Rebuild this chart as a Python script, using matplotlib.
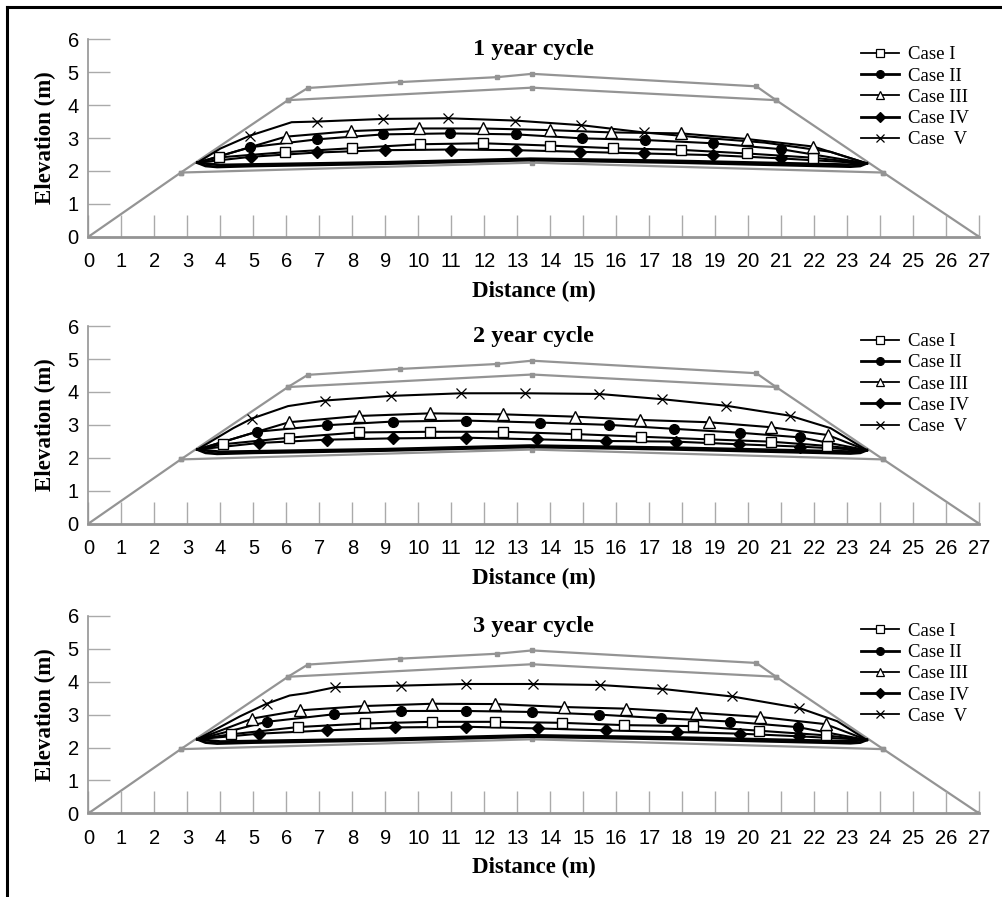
import matplotlib
matplotlib.use("Agg")
import matplotlib.pyplot as plt
from matplotlib.lines import Line2D

plt.rcParams['font.family'] = ['Liberation Sans', 'DejaVu Sans']

# embankment outline (gray), same in every panel
outer_x = [0, 2.8, 6.05, 6.65, 9.45, 12.4, 13.45, 20.25, 20.85, 24.1, 27]
outer_y = [0, 1.95, 4.15, 4.52, 4.7, 4.85, 4.95, 4.57, 4.15, 1.95, 0]
inner_x = [6.05, 13.45, 20.85]
inner_y = [4.15, 4.53, 4.15]
base_x = [2.8, 13.45, 24.1]
base_y = [1.95, 2.25, 1.95]

# lower boundary of the wetted zone (thick black, unlabelled)
low1 = [(3.3, 2.25), (3.55, 2.15), (3.9, 2.12), (5, 2.15), (9, 2.22), (13.4, 2.33),
        (18, 2.25), (23.1, 2.13), (23.4, 2.15), (23.6, 2.23)]
low2 = [(3.3, 2.25), (4.0, 2.18), (9, 2.26), (13.4, 2.37), (18, 2.3), (23, 2.19), (23.6, 2.23)]

# converge points
left_pt = (3.3, 2.25)
right_pt = (23.6, 2.23)

# ---- 1 year cycle: marker points + extra line points
p1_c1 = [(3.96, 2.41), (5.97, 2.57), (7.99, 2.69), (10.05, 2.81), (11.96, 2.84), (13.98, 2.77),
         (15.9, 2.69), (17.97, 2.64), (19.96, 2.53), (21.98, 2.40)]
p1_c2 = [(4.91, 2.72), (6.94, 2.96), (8.93, 3.11), (10.95, 3.14), (12.97, 3.11), (14.96, 2.99),
         (16.86, 2.94), (18.93, 2.84), (21.0, 2.66)]
p1_c3 = [(5.98, 3.04), (7.97, 3.21), (10.02, 3.29), (11.96, 3.29), (13.98, 3.24), (15.85, 3.17),
         (17.97, 3.14), (19.96, 2.97), (21.98, 2.74)]
p1_c4 = [(4.94, 2.43), (6.94, 2.56), (8.98, 2.63), (11.0, 2.65), (12.97, 2.63), (14.91, 2.58),
         (16.83, 2.53), (18.93, 2.48), (21.0, 2.38)]
p1_c5 = [(4.89, 3.07), (6.93, 3.50), (8.93, 3.58), (10.9, 3.60), (12.94, 3.53), (14.94, 3.39),
         (16.83, 3.17)]
p1_c5_bends = [(4.0, 2.68), (6.16, 3.48), (18.5, 3.02), (20.5, 2.86), (22.5, 2.58)]

# ---- 2 year cycle
p2_c1 = [(4.08, 2.41), (6.08, 2.61), (8.2, 2.77), (10.37, 2.79), (12.57, 2.79), (14.77, 2.72),
         (16.74, 2.64), (18.8, 2.56), (20.68, 2.49), (22.4, 2.36)]
p2_c2 = [(5.1, 2.79), (7.24, 2.99), (9.22, 3.1), (11.46, 3.13), (13.68, 3.07), (15.78, 3.0),
         (17.74, 2.88), (19.76, 2.76), (21.58, 2.62)]
p2_c3 = [(6.08, 3.08), (8.2, 3.27), (10.37, 3.35), (12.57, 3.32), (14.74, 3.25), (16.73, 3.15),
         (18.8, 3.08), (20.68, 2.93), (22.42, 2.69)]
p2_c4 = [(5.17, 2.45), (7.22, 2.55), (9.24, 2.59), (11.46, 2.61), (13.61, 2.56), (15.68, 2.51),
         (17.8, 2.49), (19.72, 2.41), (21.56, 2.34)]
p2_c5 = [(4.95, 3.19), (7.17, 3.74), (9.16, 3.88), (11.31, 3.96), (13.25, 3.96), (15.47, 3.94),
         (17.4, 3.78), (19.34, 3.58), (21.26, 3.28)]
p2_c5_bends = [(4.39, 2.9), (6.05, 3.57), (22.5, 2.9)]

# ---- 3 year cycle
p3_c1 = [(4.32, 2.4), (6.34, 2.62), (8.38, 2.73), (10.42, 2.78), (12.34, 2.78), (14.35, 2.75),
         (16.24, 2.68), (18.34, 2.65), (20.33, 2.51), (22.35, 2.37)]
p3_c2 = [(5.4, 2.78), (7.44, 3.01), (9.47, 3.11), (11.46, 3.11), (13.46, 3.08), (15.47, 3.0),
         (17.35, 2.89), (19.45, 2.79), (21.5, 2.62)]
p3_c3 = [(4.97, 2.88), (6.42, 3.13), (8.36, 3.26), (10.42, 3.33), (12.34, 3.32), (14.42, 3.23),
         (16.3, 3.18), (18.41, 3.06), (20.35, 2.93), (22.35, 2.71)]
p3_c4 = [(5.17, 2.42), (7.24, 2.52), (9.29, 2.61), (11.46, 2.63), (13.62, 2.58), (15.68, 2.52),
         (17.83, 2.47), (19.75, 2.42), (21.55, 2.34)]
p3_c5 = [(5.4, 3.33), (7.47, 3.83), (9.47, 3.88), (11.44, 3.93), (13.48, 3.93), (15.5, 3.9),
         (17.4, 3.78), (19.52, 3.55), (21.55, 3.2)]
p3_c5_bends = [(4.6, 2.95), (6.1, 3.58), (6.6, 3.65), (22.7, 2.8)]

titles = ["1 year cycle", "2 year cycle", "3 year cycle"]
case_names = ["Case I", "Case II", "Case III", "Case IV", "Case  V"]

panels = [
    [p1_c1, p1_c2, p1_c3, p1_c4, p1_c5],
    [p2_c1, p2_c2, p2_c3, p2_c4, p2_c5],
    [p3_c1, p3_c2, p3_c3, p3_c4, p3_c5],
]
bends = [p1_c5_bends, p2_c5_bends, p3_c5_bends]

# marker style per case: (marker, face, size)
styles = [("s", "white", 6.5), ("o", "black", 7), ("^", "white", 8), ("D", "black", 6.5), ("x", "none", 6.5)]
leg_lw = [1.3, 2.0, 1.3, 2.0, 1.3]

gray = "#949494"
fig = plt.figure(figsize=(10.02, 8.97), dpi=100)

# axes positions (figure fractions)
bottoms = [0.7361, 0.4163, 0.0933]
for k in range(3):
    ax = fig.add_axes([0.0883, bottoms[k], 0.8887, 0.2201])
    ax.plot(outer_x, outer_y, color=gray, lw=1.6, marker="s", ms=3, zorder=1)
    ax.plot(inner_x, inner_y, color=gray, lw=1.6, marker="s", ms=3, zorder=1)
    ax.plot(base_x, base_y, color=gray, lw=1.6, marker="s", ms=3, zorder=1)

    for low in (low1, low2):
        ax.plot([p[0] for p in low], [p[1] for p in low], color="black", lw=2.0, zorder=2)

    handles = []
    for i, pts in enumerate(panels[k]):
        mk, fc, ms = styles[i]
        line_pts = [left_pt] + pts + [right_pt]
        if i == 4:
            line_pts = line_pts + bends[k]
        line_pts = sorted(line_pts)
        ax.plot([p[0] for p in line_pts], [p[1] for p in line_pts], color="black", lw=1.5, zorder=3)
        ax.plot([p[0] for p in pts], [p[1] for p in pts], ls="none", marker=mk, ms=ms,
                mfc=fc, mec="black", mew=1.0 if i < 4 else 0.9, zorder=4)
        handles.append(Line2D([], [], color="black", lw=leg_lw[i], marker=mk, ms=ms * 0.8,
                              mfc=fc, mec="black", mew=0.9))

    ax.set_xlim(0, 27)
    ax.set_ylim(0, 6)
    ax.set_xticks(range(0, 28))
    ax.set_yticks(range(0, 7))
    for s in ("top", "right"):
        ax.spines[s].set_visible(False)
    ax.spines["left"].set_color(gray)
    ax.spines["bottom"].set_color(gray)
    ax.spines["left"].set_linewidth(1.2)
    ax.spines["bottom"].set_linewidth(2.0)
    ax.tick_params(axis="y", direction="in", length=16, width=1, color="#aaaaaa", pad=7, labelsize=14.5)
    ax.tick_params(axis="x", direction="in", length=15.5, width=1, color="#aaaaaa", pad=11, labelsize=14.5)

    ax.set_xlabel("Distance (m)", family="Liberation Serif", fontweight="bold", fontsize=16.5, labelpad=7)
    ax.set_ylabel("Elevation (m)", family="Liberation Serif", fontweight="bold", fontsize=16.5, labelpad=8)
    ax.text(0.5, 0.946, titles[k], transform=ax.transAxes, ha="center", va="center",
            family="Liberation Serif", fontweight="bold", fontsize=17.5)

    ax.legend(handles, case_names, loc="upper left", bbox_to_anchor=(0.868, 0.965), frameon=False,
              borderaxespad=0, borderpad=0, handlelength=2.0, handletextpad=0.5, labelspacing=0.22,
              prop={"family": "Liberation Serif", "size": 13.5})

# cropped frame on left and top
fig.add_artist(Line2D([0.007, 0.007], [0, 0.992], transform=fig.transFigure, color="black", lw=2.2))
fig.add_artist(Line2D([0.007, 1.0], [0.992, 0.992], transform=fig.transFigure, color="black", lw=2.2))

fig.savefig("out.png", dpi=100, facecolor="white")
